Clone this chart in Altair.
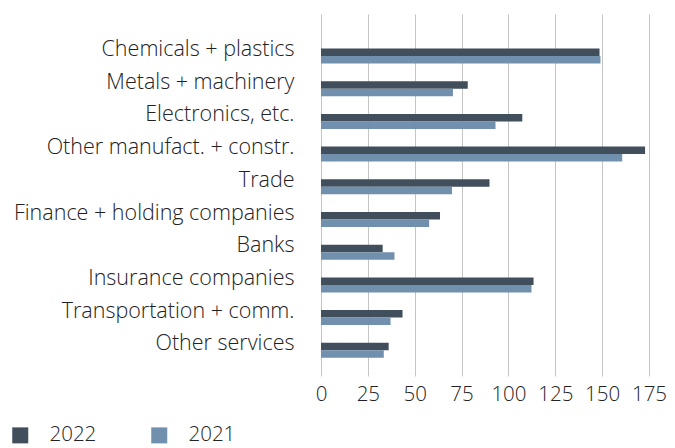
import altair as alt
import pandas as pd

categories = [
    "Chemicals + plastics",
    "Metals + machinery",
    "Electronics, etc.",
    "Other manufact. + constr.",
    "Trade",
    "Finance + holding companies",
    "Banks",
    "Insurance companies",
    "Transportation + comm.",
    "Other services",
]
values_2022 = [148.6, 78.3, 107.4, 172.9, 89.9, 63.5, 32.9, 113.4, 43.5, 36.1]
values_2021 = [149.1, 70.4, 93.1, 160.7, 69.9, 57.7, 39.2, 112.3, 37.1, 33.5]
series = ["2022", "2021"]
colors = ["#414e5c", "#7190ad"]
x_ticks = [0, 25, 50, 75, 100, 125, 150, 175]

rows = []
for c, a, b in zip(categories, values_2022, values_2021):
    rows.append({"category": c, "year": "2022", "value": a})
    rows.append({"category": c, "year": "2021", "value": b})
df = pd.DataFrame(rows)

FONT = "Open Sans"
FW = 300
FS = 21.5
FSX = 20.5

chart = alt.Chart(df).mark_bar().encode(
    y=alt.Y(
        "category:N",
        sort=categories,
        title=None,
        scale=alt.Scale(paddingInner=0.5413, paddingOuter=0.714, align=0.739),
        axis=alt.Axis(
            domain=False, ticks=False, grid=False,
            labelFontSize=FS, labelFont=FONT, labelFontWeight=FW,
            labelColor="#222222", labelPadding=27, labelOffset=-6,
            labelLimit=400,
        ),
    ),
    yOffset=alt.YOffset("year:N", sort=series, scale=alt.Scale(paddingInner=0, paddingOuter=0)),
    x=alt.X(
        "value:Q",
        title=None,
        scale=alt.Scale(domain=[0, 175], nice=False),
        axis=alt.Axis(
            values=x_ticks, domain=False, grid=True, gridColor="#c4c4c4",
            gridWidth=1, tickColor="#c4c4c4", tickSize=6,
            labelFontSize=FSX, labelFont=FONT, labelFontWeight=FW,
            labelColor="#222222", labelPadding=8, labelFlush=False,
            labelOverlap=False,
        ),
    ),
    color=alt.Color(
        "year:N",
        sort=series,
        scale=alt.Scale(domain=series, range=colors),
        legend=alt.Legend(
            title=None, orient="none", legendX=-311, legendY=411,
            direction="horizontal", symbolType="square", symbolSize=256,
            symbolStrokeWidth=0, labelFontSize=FSX, labelFont=FONT,
            labelFontWeight=FW, labelColor="#222222", labelOffset=19,
            columnPadding=52,
        ),
    ),
).properties(
    width=328,
    height=356,
    padding={"left": 313, "top": 6, "right": 18, "bottom": 78},
    autosize=alt.AutoSizeParams(type="none"),
).configure_view(stroke=None)

chart.save("out.html", embed_options={"renderer": "svg", "actions": False})
